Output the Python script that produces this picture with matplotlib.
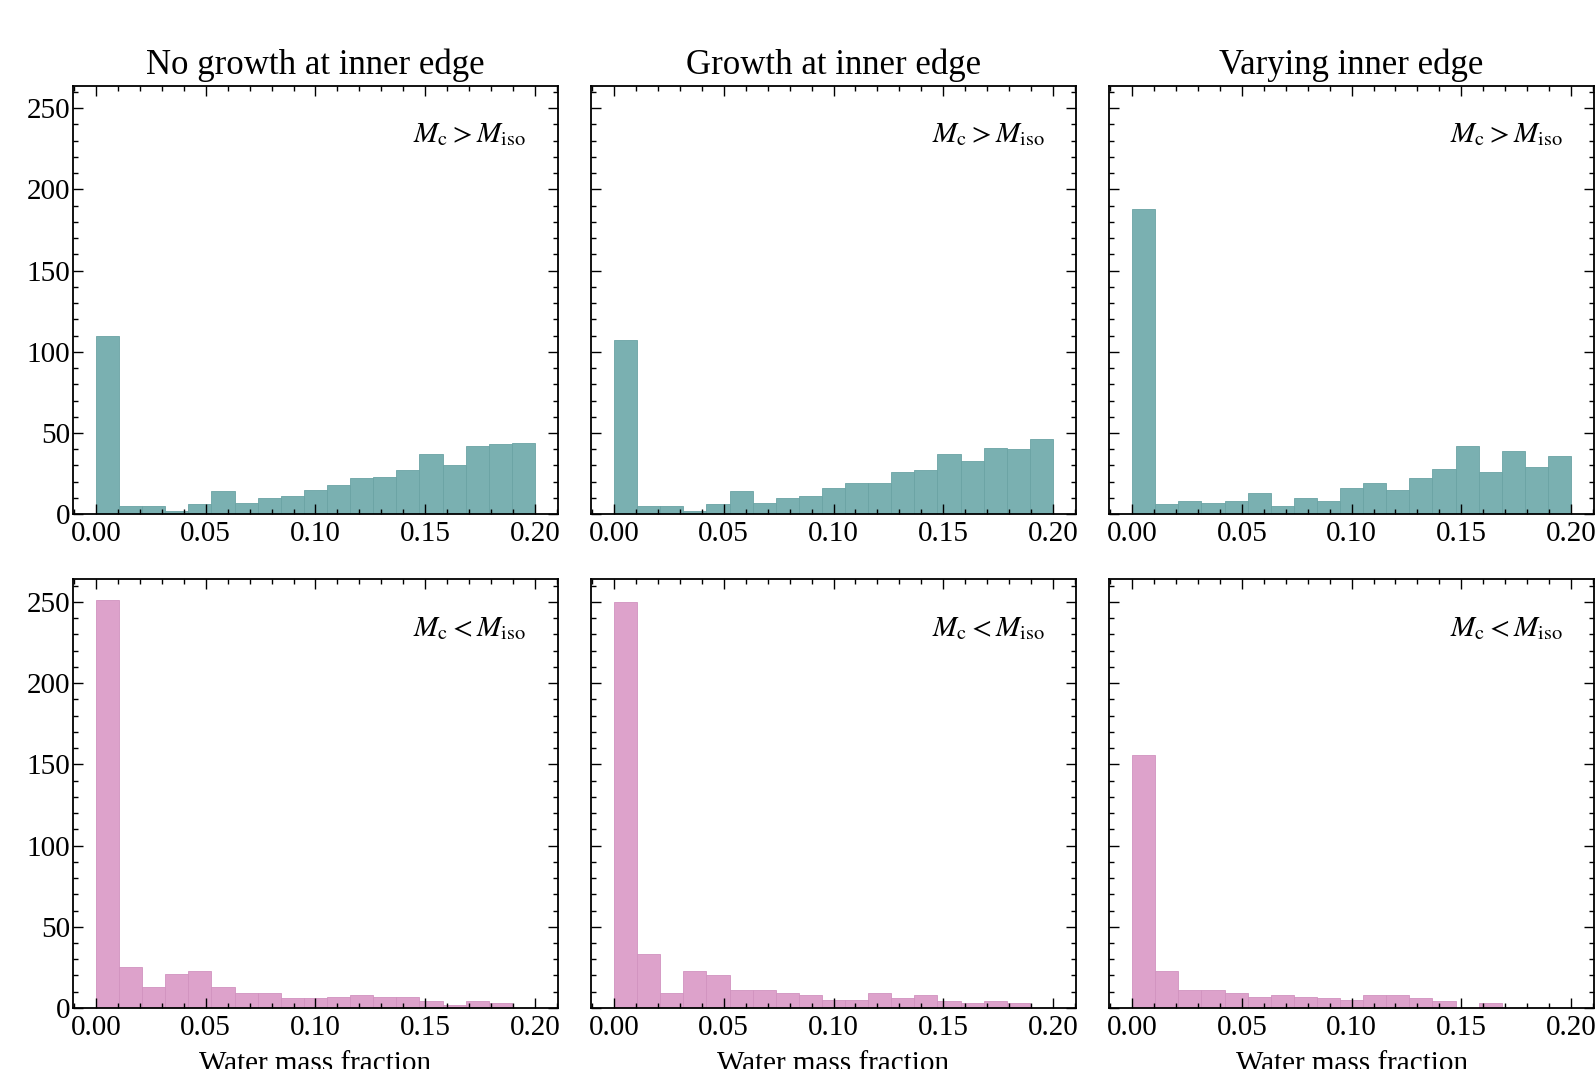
import numpy as np
import matplotlib
matplotlib.use("Agg")
import matplotlib.pyplot as plt
from matplotlib.ticker import MultipleLocator

plt.rcParams['font.family'] = ['Liberation Serif', 'DejaVu Serif']
plt.rcParams['mathtext.fontset'] = 'stix'

titles = ["No growth at inner edge", "Growth at inner edge", "Varying inner edge"]
row_labels = [r"$M_{\rm c} > M_{\rm iso}$", r"$M_{\rm c} < M_{\rm iso}$"]
xlabel = "Water mass fraction"

# 19 bins from 0 to 0.2
bin_edges = np.linspace(0.0, 0.2, 20)

above_no_growth = [110, 5, 5, 2, 6, 14, 7, 10, 11, 15, 18, 22, 23, 27, 37, 30, 42, 43, 44]
above_growth = [107, 5, 5, 2, 6, 14, 7, 10, 11, 16, 19, 19, 26, 27, 37, 33, 41, 40, 46]
above_varying = [188, 6, 8, 7, 8, 13, 5, 10, 8, 16, 19, 15, 22, 28, 42, 26, 39, 29, 36]

below_no_growth = [251, 25, 13, 21, 23, 13, 9, 9, 6, 6, 7, 8, 7, 7, 4, 2, 4, 3, 0]
below_growth = [250, 33, 9, 23, 20, 11, 11, 9, 8, 5, 5, 9, 6, 8, 4, 3, 4, 3, 0]
below_varying = [156, 23, 11, 11, 9, 7, 8, 7, 6, 5, 8, 8, 6, 4, 0, 3, 0, 0, 0]

data = [[above_no_growth, above_growth, above_varying],
        [below_no_growth, below_growth, below_varying]]
face_colors = ["#7ab0b1", "#dda2cb"]
edge_colors = ["#6aa3a4", "#d192bf"]

fig = plt.figure(figsize=(15.96, 10.69), dpi=100)
lefts = [0.0457, 0.3703, 0.6949]
bottoms = [0.519, 0.0571]
w, h = 0.3039, 0.401

for r in range(2):
    for c in range(3):
        ax = fig.add_axes([lefts[c], bottoms[r], w, h])
        counts = data[r][c]
        centers = 0.5 * (bin_edges[:-1] + bin_edges[1:])
        ax.hist(centers, bins=bin_edges, weights=counts,
                color=face_colors[r], edgecolor=edge_colors[r], linewidth=0.6)
        ax.set_xlim(-0.0105, 0.2105)
        ax.set_ylim(0, 264)
        ax.xaxis.set_major_locator(MultipleLocator(0.05))
        ax.xaxis.set_minor_locator(MultipleLocator(0.01))
        ax.yaxis.set_major_locator(MultipleLocator(50))
        ax.yaxis.set_minor_locator(MultipleLocator(10))
        ax.tick_params(which='both', direction='in', top=True, right=True,
                       labelsize=21, width=1.0)
        ax.tick_params(which='major', length=7)
        ax.tick_params(which='minor', length=3.5)
        ax.tick_params(axis='x', pad=5)
        ax.tick_params(axis='y', pad=2)
        ax.xaxis.set_major_formatter(matplotlib.ticker.FormatStrFormatter('%.2f'))
        for s in ax.spines.values():
            s.set_linewidth(1.3)
        if c != 0:
            ax.set_yticklabels([])
        if r == 0:
            ax.set_title(titles[c], fontsize=25, pad=8)
        else:
            ax.set_xlabel(xlabel, fontsize=21, labelpad=7)
        ax.text(0.935, 0.885, row_labels[r], transform=ax.transAxes,
                ha='right', va='center', fontsize=21)

fig.savefig("out.png", dpi=100)
